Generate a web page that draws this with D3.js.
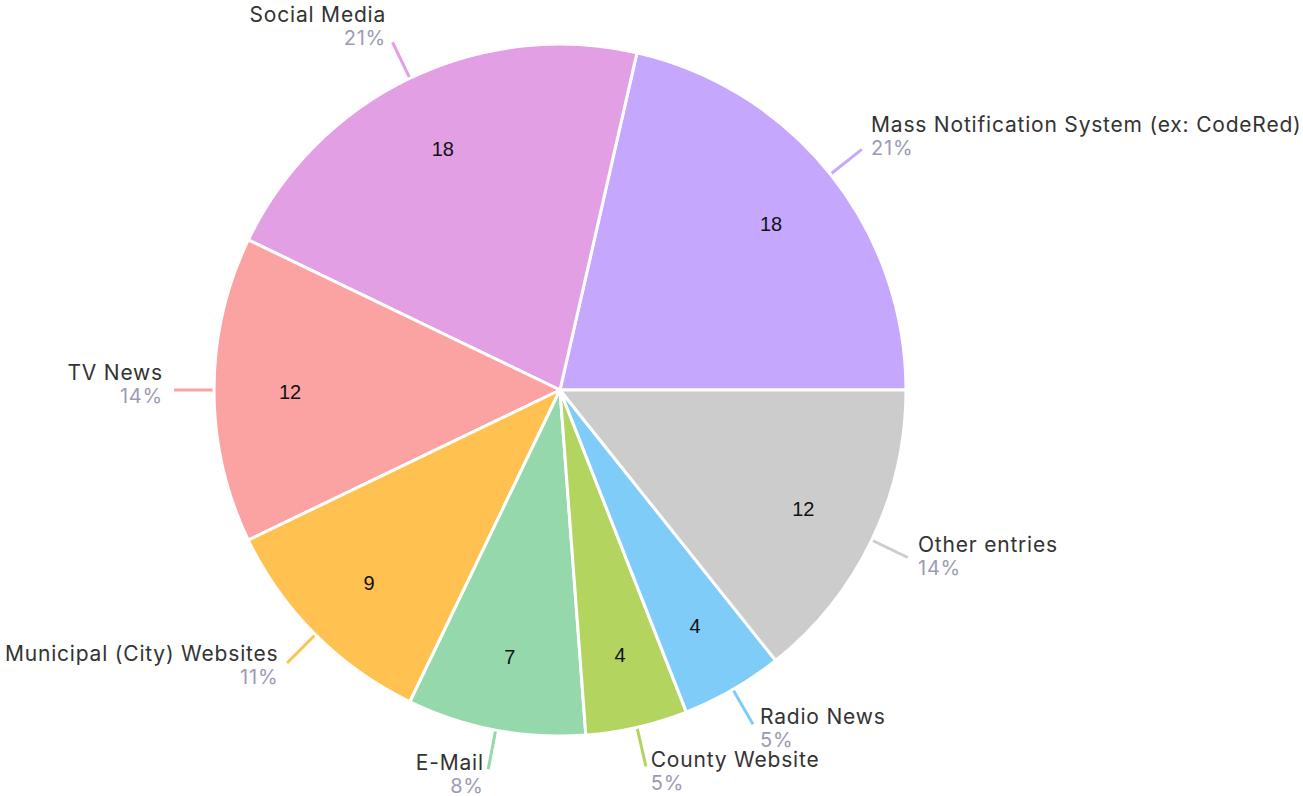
<!DOCTYPE html>
<html><head><meta charset="utf-8">
<script src="https://cdn.jsdelivr.net/npm/d3@7"></script>
<style>body{margin:0;background:#fff}svg{display:block}</style>
</head><body>
<svg id="chart" width="1303" height="796"></svg>
<script>
const categories = ["Mass Notification System (ex: CodeRed)","Social Media","TV News","Municipal (City) Websites","E-Mail","County Website","Radio News","Other entries"];
const values = [18,18,12,9,7,4,4,12];
const percentLabels = ["21%","21%","14%","11%","8%","5%","5%","14%"];
const colors = ["#c5a8fe","#e29fe4","#fba3a3","#ffc14f","#94d8ab","#b3d45f","#80ccf9","#cccccc"];

const W=1303,H=796,cx=560,cy=390,R=346;
const svg=d3.select("#chart");
const g=svg.append("g").attr("transform",`translate(${cx},${cy})`);
const data=categories.map((c,i)=>({name:c,value:values[i],pct:percentLabels[i],color:colors[i]}));
const pie=d3.pie().value(d=>d.value).sort(null).startAngle(Math.PI/2).endAngle(Math.PI/2-2*Math.PI);
const arcs=pie(data);
const arc=d3.arc().innerRadius(0).outerRadius(R);

const rIn=344,rOut=386;
arcs.forEach(a=>{
  const m=(a.startAngle+a.endAngle)/2;
  const sx=Math.sin(m),cy_=-Math.cos(m);
  g.append("line").attr("x1",sx*rIn).attr("y1",cy_*rIn).attr("x2",sx*rOut).attr("y2",cy_*rOut)
   .attr("stroke",a.data.color).attr("stroke-width",3);
});

g.selectAll("path.slice").data(arcs).enter().append("path").attr("class","slice")
 .attr("d",arc).attr("fill",d=>d.data.color).attr("stroke","#fff").attr("stroke-width",3).attr("stroke-linejoin","round");

const lab=d3.arc().innerRadius(270).outerRadius(270);
g.selectAll("text.val").data(arcs).enter().append("text").attr("class","val")
 .attr("transform",d=>`translate(${lab.centroid(d)})`).attr("text-anchor","middle").attr("dy","0.45em")
 .attr("font-family","Liberation Sans, Arial, sans-serif").attr("font-size",20).attr("fill","#111")
 .text(d=>d.data.value);

arcs.forEach(a=>{
  const m=(a.startAngle+a.endAngle)/2;
  const sx=Math.sin(m),cy_=-Math.cos(m);
  const lx=sx*rOut,ly=cy_*rOut;
  const right=sx>0;
  const off=3+8*Math.abs(sx);
  const x=right?lx+off:lx-off;
  const up=-cy_;
  const nb=ly-10-11*up;
  const t=g.append("g").attr("font-family","Inter, sans-serif").attr("text-anchor",right?"start":"end");
  t.append("text").attr("x",x).attr("y",nb).attr("font-size",21).attr("letter-spacing",0.8).attr("fill","#333").text(a.data.name);
  t.append("text").attr("x",x).attr("y",nb+23).attr("font-size",20).attr("letter-spacing",0.8).attr("fill","#9b9bb4").text(a.data.pct);
});
</script>
</body></html>
